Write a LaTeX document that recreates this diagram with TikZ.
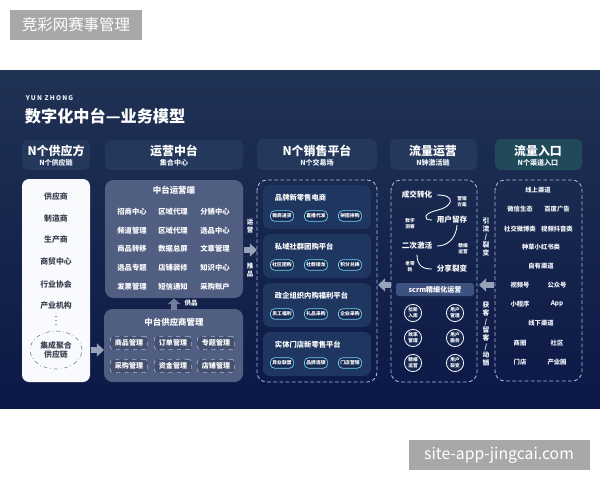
\documentclass[tikz,border=0pt]{standalone}
\usepackage{fontspec}
\setmainfont{Noto Sans CJK SC}
\newfontfamily\spacedfont[LetterSpace=18]{Noto Sans CJK SC}
\usetikzlibrary{arrows.meta, positioning, shapes.geometric}

\definecolor{bgtop}{RGB}{32,50,84}
\definecolor{bgbot}{RGB}{12,24,70}
\definecolor{headbox}{RGB}{36,56,92}
\definecolor{headteal}{RGB}{32,74,90}
\definecolor{opsbox}{RGB}{80,94,130}
\definecolor{subbox}{RGB}{30,54,96}
\definecolor{lineblue}{RGB}{165,188,225}
\definecolor{pillfill}{RGB}{22,40,80}
\definecolor{markgray}{RGB}{168,168,168}
\definecolor{scrmbar}{RGB}{62,82,128}
\definecolor{arrowgray}{RGB}{150,162,185}
\definecolor{supplytext}{RGB}{60,66,82}

\begin{document}
\begin{tikzpicture}[x=0.025cm, y=-0.025cm,
  headmain/.style={text=white, font=\fontsize{8.5}{10}\selectfont\bfseries},
  headsub/.style={text=white!85!lineblue, font=\fontsize{5}{6}\selectfont\bfseries},
  supplyitem/.style={text=supplytext, font=\fontsize{5.6}{7}\selectfont\bfseries},
  opsitem/.style={text=white, font=\fontsize{5.2}{6}\selectfont\bfseries},
  boxtitle/.style={text=white, font=\fontsize{6}{7}\selectfont\bfseries},
  dashbox/.style={draw=lineblue, dashed, rounded corners=2pt, fill=opsbox!85!black,
    minimum width=0.93cm, minimum height=0.33cm, inner sep=0pt,
    text=white, font=\fontsize{5}{6}\selectfont\bfseries},
  colframe/.style={draw=lineblue, line width=0.6pt, dash pattern=on 2.6pt off 1.8pt, rounded corners=7pt},
  pill/.style={draw=lineblue!70!cyan, fill=pillfill, line width=0.5pt, rounded corners=3pt,
    minimum width=0.58cm, minimum height=0.26cm, inner sep=0pt,
    text=white, font=\fontsize{3.4}{4}\selectfont\bfseries},
  flowbig/.style={text=white, font=\fontsize{5.4}{6.5}\selectfont\bfseries},
  flowsmall/.style={text=white, align=center, font=\fontsize{3.3}{4}\selectfont\bfseries},
  ring/.style={circle, draw=white!85!lineblue, line width=0.6pt, fill=pillfill,
    minimum size=0.43cm, inner sep=0pt, align=center,
    text=white, font=\fontsize{3.3}{4}\selectfont\bfseries},
  chan/.style={text=white!88!lineblue, font=\fontsize{4.5}{5.5}\selectfont\bfseries},
  vlabel/.style={text=white!88!lineblue, align=center, font=\fontsize{4.6}{5.6}\selectfont\bfseries},
  blockarrow/.style={line width=4pt, arrowgray, -{Triangle[length=5pt, width=9pt]}},
  flowcurve/.style={draw=white, line width=0.6pt}
]
\useasboundingbox (0,0) rectangle (600,480);
\fill[white] (0,0) rectangle (600,480);

% watermarks
\fill[markgray] (10,10) rectangle (142,40);
\node[text=white, font=\fontsize{11}{13}\selectfont] (markcn) at (76,25) {竞彩网赛事管理};
\fill[markgray] (409,440) rectangle (590,470);
\node[text=white, font=\fontsize{11.2}{13}\selectfont] (markurl) at (499,455) {site-app-jingcai.com};

% background panel
\shade[top color=bgtop, bottom color=bgbot] (0,70) rectangle (600,408);

\node[anchor=west, text=white!80!lineblue, font=\spacedfont\fontsize{4.6}{5}\selectfont\bfseries] (brand) at (21,98) {YUN ZHONG};
\node[anchor=west, text=white, font=\fontsize{11.5}{13}\selectfont\bfseries] (title) at (20,116) {数字化中台—业务模型};

% column headers
\fill[headbox, rounded corners=4pt] (22,140) rectangle (90,170);
\fill[headbox, rounded corners=4pt] (105,140) rectangle (243,170);
\fill[headbox, rounded corners=4pt] (257,139) rectangle (377,170);
\fill[headbox, rounded corners=4pt] (390,139) rectangle (477,170);
\fill[headteal, rounded corners=4pt] (495,139) rectangle (582,170);
\node[headmain] (h1) at (56,151) {N个供应方};
\node[headsub]  (s1) at (56,163) {N个供应链};
\node[headmain] (h2) at (174,151) {运营中台};
\node[headsub]  (s2) at (174,163) {集合中心};
\node[headmain] (h3) at (317,151) {N个销售平台};
\node[headsub]  (s3) at (317,163) {N个交易场};
\node[headmain] (h4) at (433,151) {流量运营};
\node[headsub]  (s4) at (433,163) {N钟激活链};
\node[headmain] (h5) at (538,151) {流量入口};
\node[headsub]  (s5) at (538,163) {N个渠道入口};

% column 1: suppliers
\fill[white!93!lineblue, rounded corners=5pt] (22,179) rectangle (90,382);
\foreach \y/\t [count=\i] in {196/供应商, 218/制造商, 240/生产商, 262/商贸中心, 284/行业协会, 306/产业机构}
  \node[supplyitem] (sup\i) at (56,\y) {\t};
\foreach \y in {316.5,320.5,324.5}
  \fill[supplytext] (56,\y) circle (0.7);
\node[ellipse, draw=supplytext!70, dash dot, line width=0.4pt, minimum width=1.3cm, minimum height=0.95cm,
  inner sep=0pt, align=center, supplyitem] (chain) at (56,350) {集成聚合\\供应链};

% column 2: operations
\fill[opsbox, rounded corners=6pt] (105,180) rectangle (243,298);
\node[boxtitle] (opstitle) at (174,190) {中台运营端};
\foreach \y/\a/\b/\c [count=\i] in {212/招商中心/区域代理/分销中心,
    231/频道管理/区域代理/选品中心, 249/商品转移/数据总屏/文章管理,
    268/选品专题/店铺装修/知识中心, 287/发票管理/短信通知/采购账户} {
  \node[opsitem] (ops\i a) at (132,\y) {\a};
  \node[opsitem] (ops\i b) at (173,\y) {\b};
  \node[opsitem] (ops\i c) at (215,\y) {\c};
}
\fill[opsbox, rounded corners=6pt] (104,309) rectangle (243,382);
\node[boxtitle] (suptitle) at (174,322) {中台供应商管理};
\foreach \y/\a/\b/\c [count=\i] in {343/商品管理/订单管理/专题管理, 366/采购管理/资金管理/店铺管理} {
  \node[dashbox] (mgr\i a) at (129,\y) {\a};
  \node[dashbox] (mgr\i b) at (173,\y) {\b};
  \node[dashbox] (mgr\i c) at (216,\y) {\c};
}
\coordinate (upS) at (174,309.5);
\coordinate (upE) at (174,298.5);
\draw[line width=4pt, opsbox!80!white, -{Triangle[length=4pt, width=9pt]}] (upS) -- (upE);
\node[opsitem, font=\fontsize{4.6}{5}\selectfont\bfseries] (gp) at (191,303) {供品};

% column 3: sales platforms
\draw[colframe] (257,180) rectangle (377,382);
\foreach \y/\t/\a/\b/\c [count=\i] in {185/品牌新零售电商/微商进货/直播代发/拼团拼购,
    234/私域社群团购平台/社区团购/社群接龙/积分兑换,
    283/政企组织内购福利平台/员工福利/礼品采购/企业采购,
    332/实体门店新零售平台/异业联盟/品牌连锁/门店营销} {
  \fill[subbox, rounded corners=5pt] (263,\y) rectangle (371,\y+44);
  \node[anchor=west, opsitem] (plat\i) at (270,\y+13) {\t};
  \node[pill] (plat\i a) at (282,\y+31) {\a};
  \node[pill] (plat\i b) at (316,\y+31) {\b};
  \node[pill] (plat\i c) at (350,\y+31) {\c};
}

% column 4: traffic operation
\draw[colframe] (391,180) rectangle (477,382);
\node[flowbig] (cj) at (417,195) {成交转化};
\node[flowsmall] (yxfa) at (462,202) {营销\\方案};
\node[flowsmall] (szdc) at (410,224) {数字\\洞察};
\node[flowbig] (yl) at (452,220) {用户留存};
\node[flowbig] (ej) at (417,246) {二次激活};
\node[flowsmall] (jxyy) at (463,249) {精细\\运营};
\node[flowsmall] (ldx) at (410,267) {老带\\新};
\node[flowbig] (fx) at (452,269) {分享裂变};
\coordinate (ylr) at (457,225);
\draw[flowcurve] (cj.east) .. controls +(20,0) and +(14,-3) .. (438,210)
  .. controls +(-14,3) and +(-10,0) .. (yl.west);
\draw[flowcurve] (ylr) .. controls (456,240) and (446,246) .. (ej.east);
\draw[flowcurve] (ej.south) .. controls +(0,12) and +(-8,0) .. (fx.west);
\fill[scrmbar, rounded corners=2pt] (396,283) rectangle (474,296);
\node[text=white, font=\fontsize{5}{6}\selectfont\bfseries] (scrm) at (435,289.5) {scrm精细化运营};
\foreach \y/\a/\b [count=\i] in {313/拉新\\入库/用户\\管理, 338/效率\\管理/用户\\服务, 363/精细\\运营/用户\\裂变} {
  \node[ring] (ring\i a) at (413,\y) {\a};
  \node[ring] (ring\i b) at (455,\y) {\b};
}

% column 5: traffic entry
\draw[colframe] (495,180) rectangle (582,381);
\node[chan] (ch1)  at (538,190) {线上渠道};
\node[chan] (ch2)  at (520,209) {微信生态};
\node[chan] (ch3)  at (557,209) {百度广告};
\node[chan] (ch4)  at (520,229) {社交微博类};
\node[chan] (ch5)  at (557,229) {视频抖音类};
\node[chan] (ch6)  at (541,247) {种草小红书类};
\node[chan] (ch7)  at (541,266) {自有渠道};
\node[chan] (ch8)  at (520,285) {视频号};
\node[chan] (ch9)  at (557,285) {公众号};
\node[chan] (ch10) at (520,304) {小程序};
\node[chan] (ch11) at (557,304) {App};
\node[chan] (ch12) at (541,323) {线下渠道};
\node[chan] (ch13) at (520,343) {商圈};
\node[chan] (ch14) at (557,343) {社区};
\node[chan] (ch15) at (520,362) {门店};
\node[chan] (ch16) at (557,362) {产业园};

% connecting arrows
\coordinate (a1s) at (91,350);
\coordinate (a1e) at (104,350);
\draw[blockarrow] (a1s) -- (a1e);
\coordinate (a2s) at (244,250);
\coordinate (a2e) at (257,250);
\draw[blockarrow] (a2s) -- (a2e);
\node[vlabel] (yy) at (250,226) {运\\营};
\node[vlabel] (tp) at (250,270) {推\\品};
\coordinate (a3s) at (391,285);
\coordinate (a3e) at (378,285);
\draw[blockarrow] (a3s) -- (a3e);
\coordinate (a4s) at (494,285);
\coordinate (a4e) at (479,285);
\draw[blockarrow] (a4s) -- (a4e);
\node[vlabel, font=\fontsize{4.8}{5.6}\selectfont\bfseries] (ylb) at (486,237) {引\\流\\/\\裂\\变};
\node[vlabel, font=\fontsize{4.8}{5.9}\selectfont\bfseries] (hk) at (486,334) {获\\客\\/\\留\\客\\/\\动\\销};
\end{tikzpicture}
\end{document}
